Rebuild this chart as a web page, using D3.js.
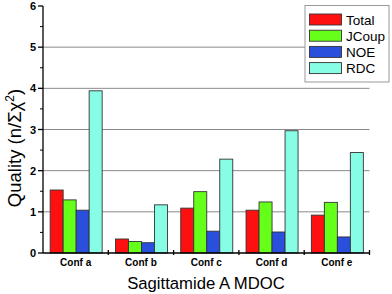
<!DOCTYPE html>
<html><head><meta charset="utf-8">
<script src="https://cdn.jsdelivr.net/npm/d3@7"></script>
<style>body{margin:0;background:#fff}svg{display:block}text{font-family:"Liberation Sans",Arial,sans-serif}</style>
</head><body><svg id="c" width="392" height="294"></svg>
<script>
const categories = ["Conf a","Conf b","Conf c","Conf d","Conf e"];
const seriesNames = ["Total","JCoup","NOE","RDC"];
const total = [1.53,0.34,1.09,1.04,0.92];
const jcoup = [1.29,0.28,1.49,1.24,1.23];
const noe = [1.04,0.25,0.53,0.51,0.39];
const rdc = [3.94,1.17,2.28,2.97,2.44];
const colors = ["#ff1010","#66ff1a","#2a4fdc","#88fde6"];
const yTicks = [0,1,2,3,4,5,6];
const series = [total,jcoup,noe,rdc];

const svg = d3.select("#c");
const L=43,R=369.5,T=6,B=253;
const xo = d3.scaleBand().domain(categories).range([L,R]);
const xs = d3.scaleBand().domain(seriesNames).range([0,52]);
const y = d3.scaleLinear().domain([0,6]).range([B,T]);

// gridlines
svg.append("g").selectAll("line").data([1,2,3,4,5]).join("line")
  .attr("x1",L).attr("x2",R).attr("y1",d=>y(d)).attr("y2",d=>y(d))
  .attr("stroke","#8a8a8a").attr("stroke-width",1);

// bars
categories.forEach((c,i)=>{
  const g = svg.append("g").attr("transform",`translate(${xo(c)+(xo.bandwidth()-52)/2},0)`);
  g.selectAll("rect").data(seriesNames.map((s,j)=>({s,v:series[j][i],j}))).join("rect")
    .attr("x",d=>xs(d.s)+0.5).attr("width",xs.bandwidth())
    .attr("y",d=>y(d.v)).attr("height",d=>B-y(d.v))
    .attr("fill",d=>colors[d.j]).attr("stroke","#333").attr("stroke-width",0.9);
});

// y axis
const ya = svg.append("g").attr("transform",`translate(${L},0)`);
ya.append("line").attr("y1",T).attr("y2",B).attr("stroke","#000").attr("stroke-width",1.3);
ya.selectAll(".maj").data(yTicks).join("line").attr("x1",-5).attr("x2",0)
  .attr("y1",d=>y(d)).attr("y2",d=>y(d)).attr("stroke","#000").attr("stroke-width",1.3);
ya.selectAll(".min").data(d3.range(0.5,6,1)).join("line").attr("x1",-3).attr("x2",0)
  .attr("y1",d=>y(d)).attr("y2",d=>y(d)).attr("stroke","#000").attr("stroke-width",1);
ya.selectAll("text").data(yTicks).join("text").attr("x",-7).attr("y",d=>y(d)+4)
  .attr("text-anchor","end").attr("font-size",11).attr("font-weight","bold").text(d=>d);

// x axis
const xa = svg.append("g");
xa.append("line").attr("x1",L).attr("x2",R).attr("y1",B).attr("y2",B).attr("stroke","#000").attr("stroke-width",1.3);
xa.selectAll(".t").data(categories).join("line")
  .attr("x1",d=>xo(d)+xo.bandwidth()).attr("x2",d=>xo(d)+xo.bandwidth())
  .attr("y1",B-3).attr("y2",B+2).attr("stroke","#000").attr("stroke-width",1.3);
xa.selectAll("text").data(categories).join("text")
  .attr("x",d=>xo(d)+xo.bandwidth()/2).attr("y",B+13)
  .attr("text-anchor","middle").attr("font-size",10).attr("font-weight","bold").text(d=>d);

// titles
svg.append("text").attr("x",206).attr("y",289).attr("text-anchor","middle").attr("font-size",16.7).text("Sagittamide A MDOC");
const yl = svg.append("text").attr("transform","translate(21,148) rotate(-90)").attr("text-anchor","middle")
  .attr("font-size",18.5);
yl.append("tspan").text("Quality (n/Σχ");
yl.append("tspan").attr("dy",-7).attr("font-size",12).text("2");
yl.append("tspan").attr("dy",7).text(")");

// legend
const lg = svg.append("g");
lg.append("rect").attr("x",305).attr("y",5.5).attr("width",84).attr("height",76.5)
  .attr("fill","#fff").attr("stroke","#999").attr("stroke-width",1);
seriesNames.forEach((s,j)=>{
  const cy = 19.5 + j*16.2;
  lg.append("rect").attr("x",309.5).attr("y",cy-5.5).attr("width",32).attr("height",11)
    .attr("fill",colors[j]).attr("stroke","#333").attr("stroke-width",0.9);
  lg.append("text").attr("x",346).attr("y",cy+5).attr("font-size",13.5).text(s);
});
</script></body></html>
